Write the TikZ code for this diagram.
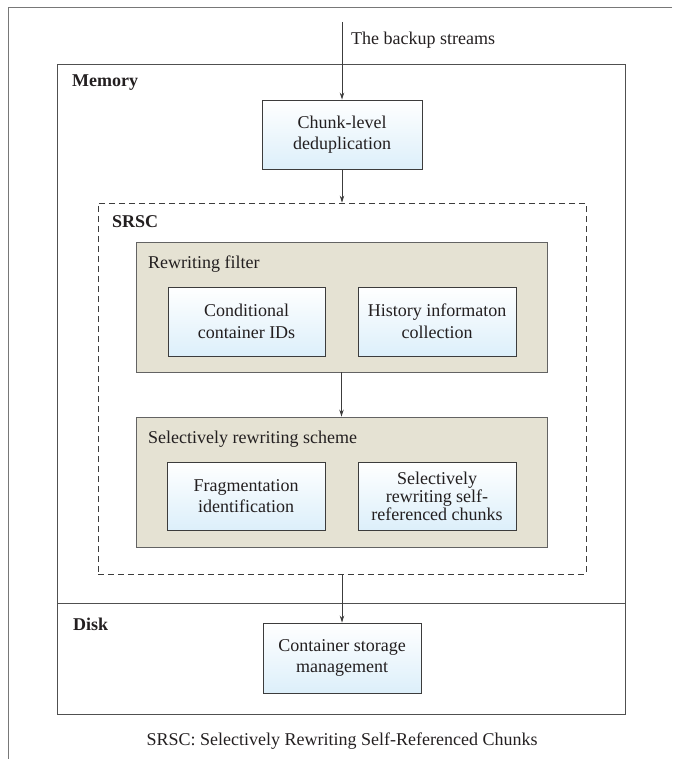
\documentclass[tikz,border=0pt]{standalone}
\usepackage{fontspec}
\setmainfont{Liberation Serif}
\usetikzlibrary{arrows.meta}
\definecolor{boxblue}{RGB}{220,239,250}
\definecolor{tanfill}{RGB}{229,226,211}
\definecolor{txt}{RGB}{35,31,32}
\definecolor{edge}{RGB}{60,60,60}
\definecolor{framegray}{RGB}{120,120,120}
\tikzset{
  bluebox/.style={draw=edge, line width=0.9pt, top color=white, bottom color=boxblue,
    align=center, inner sep=0pt, text=txt, font=\fontsize{18}{21.6}\selectfont},
  tanbox/.style={draw=edge!80, line width=0.9pt, fill=tanfill, inner sep=0pt},
  layerbox/.style={draw=edge!90, line width=0.9pt, inner sep=0pt},
  dashbox/.style={draw=edge, line width=0.8pt, dash pattern=on 6pt off 4pt, inner sep=0pt},
  lbl/.style={anchor=base west, inner sep=0pt, text=txt, font=\fontsize{18}{21.6}\selectfont},
  blbl/.style={lbl, font=\fontsize{18}{21.6}\selectfont\bfseries},
  flow/.style={draw=edge, line width=0.8pt, -{Stealth[length=7pt,width=4.5pt]}},
}
\begin{document}
\begin{tikzpicture}[x=1pt,y=-1pt]
\useasboundingbox (0,0) rectangle (672,759);
% outer frame (open on right and bottom)
\draw[framegray, line width=1pt] (672,8) -- (8,8) -- (8,759);
% layers
\node[layerbox, minimum width=568pt, minimum height=539pt] (memory) at (341,333.5) {};
\node[layerbox, minimum width=568pt, minimum height=111pt] (disk) at (341,658.5) {};
\node[blbl] (memlbl) at (72,87) {Memory};
\node[blbl] (disklbl) at (73,630) {Disk};
% SRSC dashed
\node[dashbox, minimum width=488pt, minimum height=371pt] (srsc) at (342,388.5) {};
\node[blbl] (srsclbl) at (112,227) {SRSC};
% tan groups
\node[tanbox, minimum width=411pt, minimum height=130pt] (filter) at (341.5,307) {};
\node[lbl] (filterlbl) at (148,268) {Rewriting filter};
\node[tanbox, minimum width=411pt, minimum height=130pt] (scheme) at (341.5,482) {};
\node[lbl] (schemelbl) at (148,443) {Selectively rewriting scheme};
% blue boxes
\node[bluebox, minimum width=160pt, minimum height=69pt] (chunk) at (342,134.5) {Chunk-level\\deduplication};
\node[bluebox, minimum width=157pt, minimum height=69pt] (cond) at (246.5,321.5) {Conditional\\container IDs};
\node[bluebox, minimum width=158pt, minimum height=69pt] (hist) at (437,321.5) {History informaton\\collection};
\node[bluebox, minimum width=158pt, minimum height=68pt] (frag) at (246,496) {Fragmentation\\identification};
\node[bluebox, minimum width=158pt, minimum height=68pt, font=\fontsize{18}{18}\selectfont] (sel) at (437,496) {Selectively\\rewriting self-\\referenced chunks};
\node[bluebox, minimum width=158pt, minimum height=70pt] (cont) at (342,658) {Container storage\\management};
% input
\coordinate (in) at (342,22);
\node[lbl] (inlbl) at (351,45) {The backup streams};
% caption
\node[lbl, anchor=base] (caption) at (342,745) {SRSC: Selectively Rewriting Self-Referenced Chunks};
% connectors
\draw[flow] (in) -- (chunk.north);
\draw[flow] (chunk.south) -- (srsc.north);
\draw[flow] (filter.south) -- (scheme.north);
\draw[flow] (srsc.south) -- (cont.north);
\end{tikzpicture}
\end{document}
